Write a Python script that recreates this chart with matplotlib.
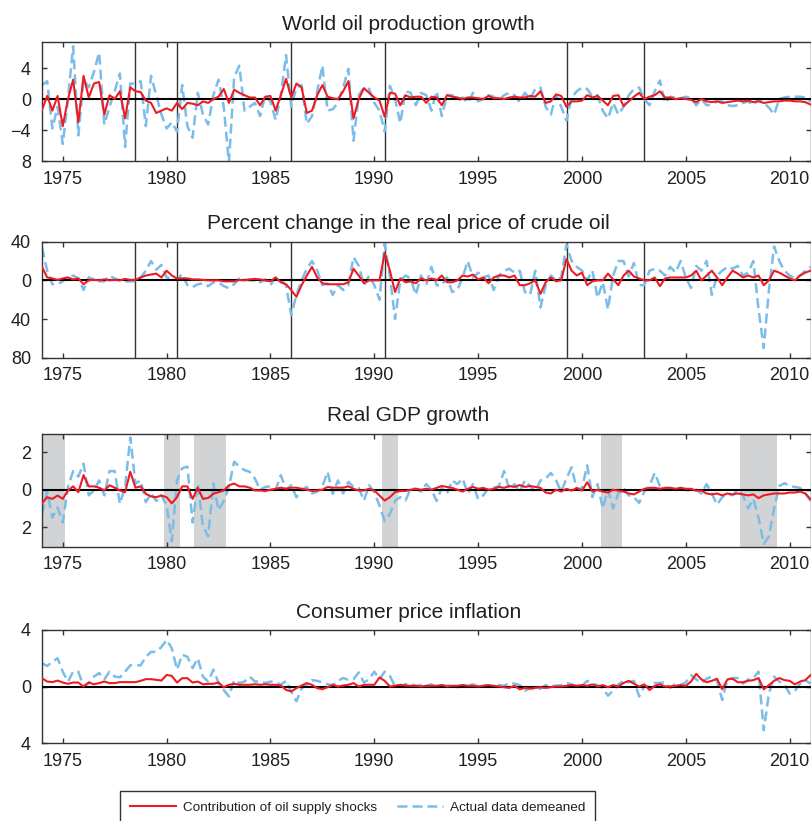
import numpy as np
import matplotlib.pyplot as plt
from matplotlib.lines import Line2D

plt.rcParams["font.family"] = ["Liberation Sans", "DejaVu Sans"]

# quarterly observations, 1974Q1 .. 2011Q1
n_obs = 149
dates = 1974 + 0.25 * np.arange(n_obs)

titles = [
    "World oil production growth",
    "Percent change in the real price of crude oil",
    "Real GDP growth",
    "Consumer price inflation",
]

oil_prod_shock = [
    -1.4, 0.4, -1.5, 0.4, -3.5, 0.0, 2.5, -3.0, 3.0, 0.2, 2.0, 2.2, -2.0, 0.5, 0.0, 1.0,
    -2.5, 1.5, 1.0, 0.9, -0.2, -0.5, -1.8, -1.5, -1.2, -1.5, -0.5, -1.3, -0.5, -0.6, -0.8, -0.3,
    -0.5, 0.0, 0.3, 1.3, -0.5, 1.2, 0.8, 0.5, 0.2, 0.2, -0.8, 0.3, 0.4, -1.5, 0.5, 2.6,
    0.2, 2.0, 1.5, -1.8, -1.5, 0.5, 1.8, 0.3, 0.1, 0.0, 1.0, 2.3, -2.5, 0.0, 1.4, 0.8,
    0.2, -0.2, -2.3, 0.8, 0.7, -0.8, 0.5, 0.2, 0.3, 0.3, -0.5, 0.3, 0.2, -0.8, 0.5, 0.3,
    0.2, 0.0, 0.2, 0.2, 0.1, 0.0, 0.4, 0.1, 0.1, 0.0, 0.2, 0.3, 0.2, 0.2, 0.4, 0.3,
    1.0, -0.5, -0.3, 0.6, 0.4, -1.0, -0.3, -0.3, -0.2, 0.5, 0.2, 0.4, -0.2, -0.8, 0.4, 0.5,
    -0.9, -0.3, 0.3, 0.8, 0.0, 0.3, 0.5, 1.0, 0.2, 0.2, 0.0, 0.1, 0.0, -0.1, -0.4, 0.0,
    -0.3, -0.4, -0.3, -0.5, -0.4, -0.3, -0.2, -0.3, -0.2, -0.4, -0.3, -0.5, -0.4, -0.3, -0.3, -0.2,
    -0.2, -0.3, -0.3, -0.4, -0.7,
]
oil_prod_actual = [
    1.8, 2.3, -3.8, -1.0, -5.8, 0.0, 6.8, -4.7, 2.5, 1.5, 3.5, 6.0, -3.3, -1.0, 1.0, 3.3,
    -6.2, 2.0, 2.0, 2.3, -3.5, 3.0, 0.5, -2.0, -3.8, -3.0, -4.2, 1.8, -3.5, -5.0, 0.8, -2.0,
    -3.3, 0.5, 2.5, -1.0, -8.2, 2.8, 4.3, -1.5, -1.0, -0.5, -2.2, 0.5, -0.3, -2.7, 0.5, 5.7,
    -1.0, 1.5, 1.8, -3.2, -2.2, 1.0, 4.3, -1.5, -1.3, -0.5, 1.5, 3.9, -5.4, 0.5, 1.5, 1.3,
    -0.5, -1.5, -4.2, 1.7, 0.0, -3.1, 1.0, 0.8, -0.8, 0.8, 0.5, -1.5, 1.0, -2.2, 0.5, 0.5,
    -0.3, 0.2, -0.5, 0.8, -0.3, 0.0, 0.5, 0.3, -0.2, 0.5, 0.8, 0.5, -0.4, 0.8, 0.0, 1.3,
    1.5, -1.0, -2.0, 0.5, -1.0, -2.8, 0.2, 1.0, 1.5, 1.3, 0.3, 0.5, -1.5, -2.5, -0.5, -2.0,
    -1.0, 0.5, 1.3, 1.5, 0.0, -0.8, 1.0, 2.4, -0.5, 0.3, 0.2, 0.1, 0.3, 0.1, -0.8, 0.0,
    -0.8, -0.7, -0.3, -0.3, -0.8, -0.9, -0.8, -0.5, -0.3, -0.8, 0.0, -0.5, -1.1, -2.0, 0.0, 0.2,
    0.3, 0.3, 0.3, 0.2, -0.3,
]

oil_price_shock = [
    14, 3, 2, 0.5, 2, 3, 1, 2, -4, 0, 0.5, 0, 1, 0, 0.5, 0,
    1.5, 0.5, 0.5, 3, 5, 6, 7, 3, 10, 5, 2, 2, 2, 1, 1, 0.5,
    0, 0, 0, -1, -1, -1, 0.5, 0, 1, 1.5, 1, 0, -1, 3, -2, -4,
    -10, -17, -5, 5, 14, 3, -3, -4, -4, -4, -4, -2, 12, 5, -3, 0,
    0, 0, 28, 10, -12, 2, -2, -1, -3, 2, 0, 2, 0, 5, -2, -2,
    0, 5, 4, 6, 1, 3, -3, 3, 5, 5, 3, 5, -5, -5, -3, 0,
    -14, -2, 3, -1, 0, 22, 10, 5, 8, -5, -1, 0, 0, 7, 1, -5,
    5, 10, 4, 2, 0, 0, 3, -6, 2, 3, 3, 3, 3, 5, 10, 0,
    5, 10, 3, -5, 3, 10, 7, 3, 5, 3, 5, -5, 0, 10, 8, 5,
    2, 0, 5, 8, 10,
]
oil_price_actual = [
    34, 10, -4, -4, -1, 4, 5, 2, -10, 3, 1, -1, -1, 5, 2, 0,
    -1, -1, -1, 3, 10, 20, 11, 16, 3, 2, 0, 7, -5, -7, -4, -3,
    -6, -2, -2, -6, -8, -4, 2, 1, 0, 0, -2, 1, -5, 3, 0, -5,
    -36, -15, 0, 12, 20, 10, -5, -3, -15, -5, -10, -5, 24, 15, -5, 5,
    -5, -20, 38, 5, -40, 0, 5, 2, -15, 5, -5, 14, -5, -5, 3, -12,
    -10, 3, 20, 3, 8, 3, 5, -10, 5, 10, 12, 8, 10, -12, -15, 10,
    -28, -5, 5, 0, 3, 37, 20, 14, 10, 0, 10, -18, -2, -30, 5, 20,
    20, 4, 18, -5, -5, 10, 12, 10, 5, 14, 8, 20, 3, -8, 15, 10,
    20, -15, 5, 10, 14, 12, 15, 5, 8, 20, -30, -70, -10, 35, 20, 10,
    5, 2, 5, 10, 14,
]

gdp_shock = [
    -0.73, -0.4, -0.49, -0.31, -0.49, -0.04, 0.18, -0.13, 0.78, 0.18, 0.18, 0.11, -0.04, 0.24, 0.11, -0.04,
    -0.13, 0.96, 0.11, 0.18, -0.22, -0.36, -0.4, -0.31, -0.4, -0.73, -0.4, 0.18, 0.18, -0.49, 0.11, -0.49,
    -0.44, -0.22, -0.13, -0.04, 0.24, 0.33, 0.18, 0.18, 0.11, -0.04, -0.04, -0.07, 0.0, 0.05, 0.11, 0.05,
    0.11, 0.11, 0.05, 0.0, -0.07, -0.04, 0.0, 0.15, 0.11, 0.11, 0.11, 0.18, 0.05, -0.04, -0.04, 0.05,
    -0.04, -0.31, -0.58, -0.4, -0.13, -0.07, -0.07, 0.0, 0.05, 0.0, 0.05, 0.0, 0.1, 0.2, 0.15, 0.1,
    0.0, -0.1, 0.05, 0.15, 0.05, 0.1, 0.0, 0.05, 0.15, 0.1, 0.2, 0.15, 0.25, 0.15, 0.2, 0.15,
    0.1, -0.15, -0.2, 0.0, -0.1, 0.05, -0.05, 0.1, -0.05, 0.4, -0.1, 0.0, -0.1, -0.15, 0.0, -0.05,
    -0.1, -0.2, -0.25, -0.1, 0.05, 0.1, 0.1, 0.05, 0.1, 0.1, 0.05, 0.1, 0.05, 0.05, -0.05, -0.05,
    -0.2, -0.25, -0.2, -0.3, -0.2, -0.25, -0.2, -0.25, -0.3, -0.25, -0.45, -0.3, -0.25, -0.2, -0.2, -0.2,
    -0.15, -0.15, -0.1, -0.2, -0.5,
]
gdp_actual = [
    -1.3, -0.1, -1.5, -0.95, -1.75, 0.15, 1.0, 0.7, 1.4, -0.3, -0.05, 0.5, -0.3, 1.0, 1.0, -0.76,
    0.15, 2.8, 0.33, 0.5, -0.67, -0.2, -0.6, -0.3, -0.85, -2.76, 0.5, 1.15, 1.24, -1.76, 0.33, -1.95,
    -2.5, 0.33, -1.1, -0.6, 0.15, 1.5, 1.24, 1.05, 0.96, 0.6, 0.0, 0.15, 0.18, 0.0, 0.78, 0.0,
    0.24, -0.4, 0.0, 0.15, -0.2, -0.1, 0.18, 0.96, -0.22, 0.5, -0.2, 0.42, 0.15, 0.1, -0.58, 0.24,
    -0.13, -0.85, -1.67, -1.3, -0.58, -0.4, -0.58, 0.05, 0.05, -0.1, 0.3, 0.0, -0.6, 0.1, -0.2, 0.5,
    0.3, 0.6, -0.2, 0.3, -0.5, -0.3, 0.1, 0.1, 0.2, 1.0, 0.0, 0.3, -0.1, 0.5, 0.2, -0.1,
    0.5, 0.6, 0.9, 0.5, -0.1, 0.6, 1.2, 0.0, 0.1, 1.3, -0.4, 0.3, -1.0, 0.0, -1.0, -0.2,
    0.1, -0.3, -0.4, -0.7, -0.1, 0.2, 0.9, 0.2, 0.1, 0.1, 0.0, 0.1, 0.0, -0.1, 0.0, -0.2,
    0.3, -0.2, -0.8, -0.4, -0.2, -0.3, 0.0, -0.3, -1.0, -0.5, -1.5, -2.9, -2.5, -1.0, 0.2, 0.35,
    0.2, 0.15, 0.1, -0.2, -0.6,
]

cpi_shock = [
    0.59, 0.35, 0.31, 0.42, 0.28, 0.19, 0.28, 0.28, 0.0, 0.28, 0.16, 0.24, 0.35, 0.24, 0.24, 0.31,
    0.31, 0.31, 0.31, 0.4, 0.52, 0.52, 0.47, 0.42, 0.82, 0.75, 0.28, 0.59, 0.59, 0.28, 0.35, 0.16,
    0.19, 0.19, 0.28, -0.05, 0.12, 0.19, 0.12, 0.12, 0.12, 0.16, 0.12, 0.16, 0.12, 0.12, 0.07, -0.24,
    -0.35, -0.12, 0.07, 0.24, 0.12, -0.12, -0.19, -0.05, 0.12, 0.0, 0.07, 0.12, 0.24, 0.0, 0.12, 0.12,
    0.12, 0.64, 0.4, 0.0, 0.07, 0.12, 0.07, 0.05, 0.05, 0.0, 0.05, 0.05, 0.05, 0.1, 0.0, 0.05,
    0.05, 0.1, 0.05, 0.05, 0.0, 0.05, 0.1, 0.05, 0.0, -0.05, -0.1, 0.05, -0.2, -0.1, -0.15, -0.1,
    -0.05, -0.1, -0.05, 0.0, 0.0, 0.05, 0.1, 0.05, 0.1, 0.05, 0.15, 0.0, 0.1, -0.05, 0.1, 0.0,
    0.25, 0.4, 0.2, 0.0, 0.15, -0.25, 0.05, 0.15, 0.0, 0.0, 0.05, 0.1, 0.05, 0.35, 0.9, 0.5,
    0.3, 0.4, 0.55, -0.2, 0.5, 0.55, 0.3, 0.3, 0.4, 0.45, 0.6, -0.2, 0.1, 0.4, 0.6, 0.45,
    0.4, 0.15, 0.35, 0.45, 0.8,
]
cpi_actual = [
    1.65, 1.45, 1.75, 2.0, 1.05, 0.35, 1.05, 1.05, 0.0, 0.25, 0.7, 0.95, 0.5, 1.05, 0.7, 0.65,
    1.05, 1.5, 1.5, 1.5, 2.1, 2.45, 2.45, 2.8, 3.3, 2.7, 1.2, 2.25, 2.1, 1.3, 2.0, 0.7,
    0.35, 1.2, 0.25, -0.25, -0.7, 0.45, 0.25, 0.35, 0.7, 0.35, 0.35, 0.25, 0.35, 0.3, 0.12, 0.4,
    -0.35, -1.05, -0.12, 0.12, 0.45, 0.4, 0.28, 0.16, 0.1, 0.4, 0.6, 0.47, 0.52, 1.0, 0.28, 0.52,
    1.05, 0.52, 1.05, 0.75, 0.0, 0.0, 0.16, 0.19, 0.05, 0.1, 0.05, 0.15, -0.05, 0.1, 0.05, 0.1,
    -0.05, 0.1, 0.05, 0.15, 0.0, 0.1, 0.05, -0.05, 0.1, 0.05, 0.25, 0.2, 0.1, -0.3, -0.1, -0.2,
    -0.15, 0.1, 0.05, 0.05, 0.1, 0.25, 0.15, 0.0, 0.05, 0.4, 0.2, 0.1, -0.1, -0.65, -0.3, 0.15,
    0.4, 0.3, 0.4, -0.7, 0.0, 0.0, 0.25, 0.25, 0.3, -0.1, 0.2, 0.1, 0.3, 0.8, 0.5, 0.25,
    0.55, 0.7, 0.4, -0.95, 0.5, 0.6, 0.6, 0.2, 0.5, 0.6, 1.05, -3.1, -0.5, 0.7, 0.35, 0.1,
    -0.5, -0.3, 0.2, 0.45, 0.2,
]

# exogenous oil supply events (panels 1 and 2) and US recessions (panel 3)
event_dates = [1978.5, 1980.5, 1986.0, 1990.5, 1999.3, 2003.0]
recessions = [(1973.9, 1975.13), (1979.87, 1980.64), (1981.31, 1982.84),
              (1990.37, 1991.13), (2000.93, 2001.94), (2007.63, 2009.39)]

x_ticks = [1975, 1980, 1985, 1990, 1995, 2000, 2005, 2010]
y_ticks = [[4, 0, -4, -8], [40, 0, -40, -80], [2, 0, -2], [4, 0, -4]]
y_tick_labels = [["4", "0", "\u22124", "8"], ["40", "0", "40", "80"], ["2", "0", "2"], ["4", "0", "4"]]
y_limits = [(-8, 7.3), (-80, 40), (-3.05, 3.0), (-4, 4)]

shock_series = [oil_prod_shock, oil_price_shock, gdp_shock, cpi_shock]
actual_series = [oil_prod_actual, oil_price_actual, gdp_actual, cpi_actual]

RED = "#ed1c24"
BLUE = "#7bbde8"
INK = "#231f20"

fig = plt.figure(figsize=(8.12, 8.21), dpi=100)
left, width = 42 / 812, 769.5 / 812
panel_px = [(42.5, 161), (241.7, 357.7), (433.7, 546.7), (630, 743)]

for k, (top, bottom) in enumerate(panel_px):
    ax = fig.add_axes([left, 1 - bottom / 821, width, (bottom - top) / 821])

    if k == 2:
        for start, end in recessions:
            ax.axvspan(start, end, color="#d1d3d4", lw=0, zorder=0)
    if k in (0, 1):
        for d in event_dates:
            ax.axvline(d, color="#333333", lw=1.0, zorder=1)

    ax.plot(dates, actual_series[k], color=BLUE, lw=1.8, dashes=(4, 2), zorder=2)
    ax.axhline(0, color="black", lw=1.5, zorder=3)
    ax.plot(dates, shock_series[k], color=RED, lw=1.5, zorder=4)

    ax.set_xlim(1974, 2011.05)
    ax.set_ylim(*y_limits[k])
    ax.set_xticks(x_ticks)
    ax.set_yticks(y_ticks[k])
    ax.set_yticklabels(y_tick_labels[k])
    ax.tick_params(direction="in", length=3.5, width=1.0, colors="#333333",
                   labelcolor=INK, labelsize=13, top=True, right=True)
    ax.tick_params(axis="x", pad=7)
    ax.tick_params(axis="y", pad=8)
    for sp in ax.spines.values():
        sp.set_color("#333333")
        sp.set_linewidth(1.0)

    ax.set_title(titles[k], fontsize=15, color=INK, x=0.476, pad=9)

handles = [Line2D([], [], color=RED, lw=1.5),
           Line2D([], [], color=BLUE, lw=1.8, dashes=(4, 2))]
leg = fig.legend(handles, ["Contribution of oil supply shocks", "Actual data demeaned"],
                 loc="upper left", bbox_to_anchor=(120 / 812, 1 - 791 / 821), ncol=2,
                 fontsize=9.7, fancybox=False, edgecolor="#333333", framealpha=1,
                 handlelength=3.4, handletextpad=0.5, columnspacing=1.5,
                 borderpad=0.75, borderaxespad=0)
leg.get_frame().set_linewidth(1.0)
for t in leg.get_texts():
    t.set_color(INK)

plt.savefig("out.png", dpi=100)
plt.close()
